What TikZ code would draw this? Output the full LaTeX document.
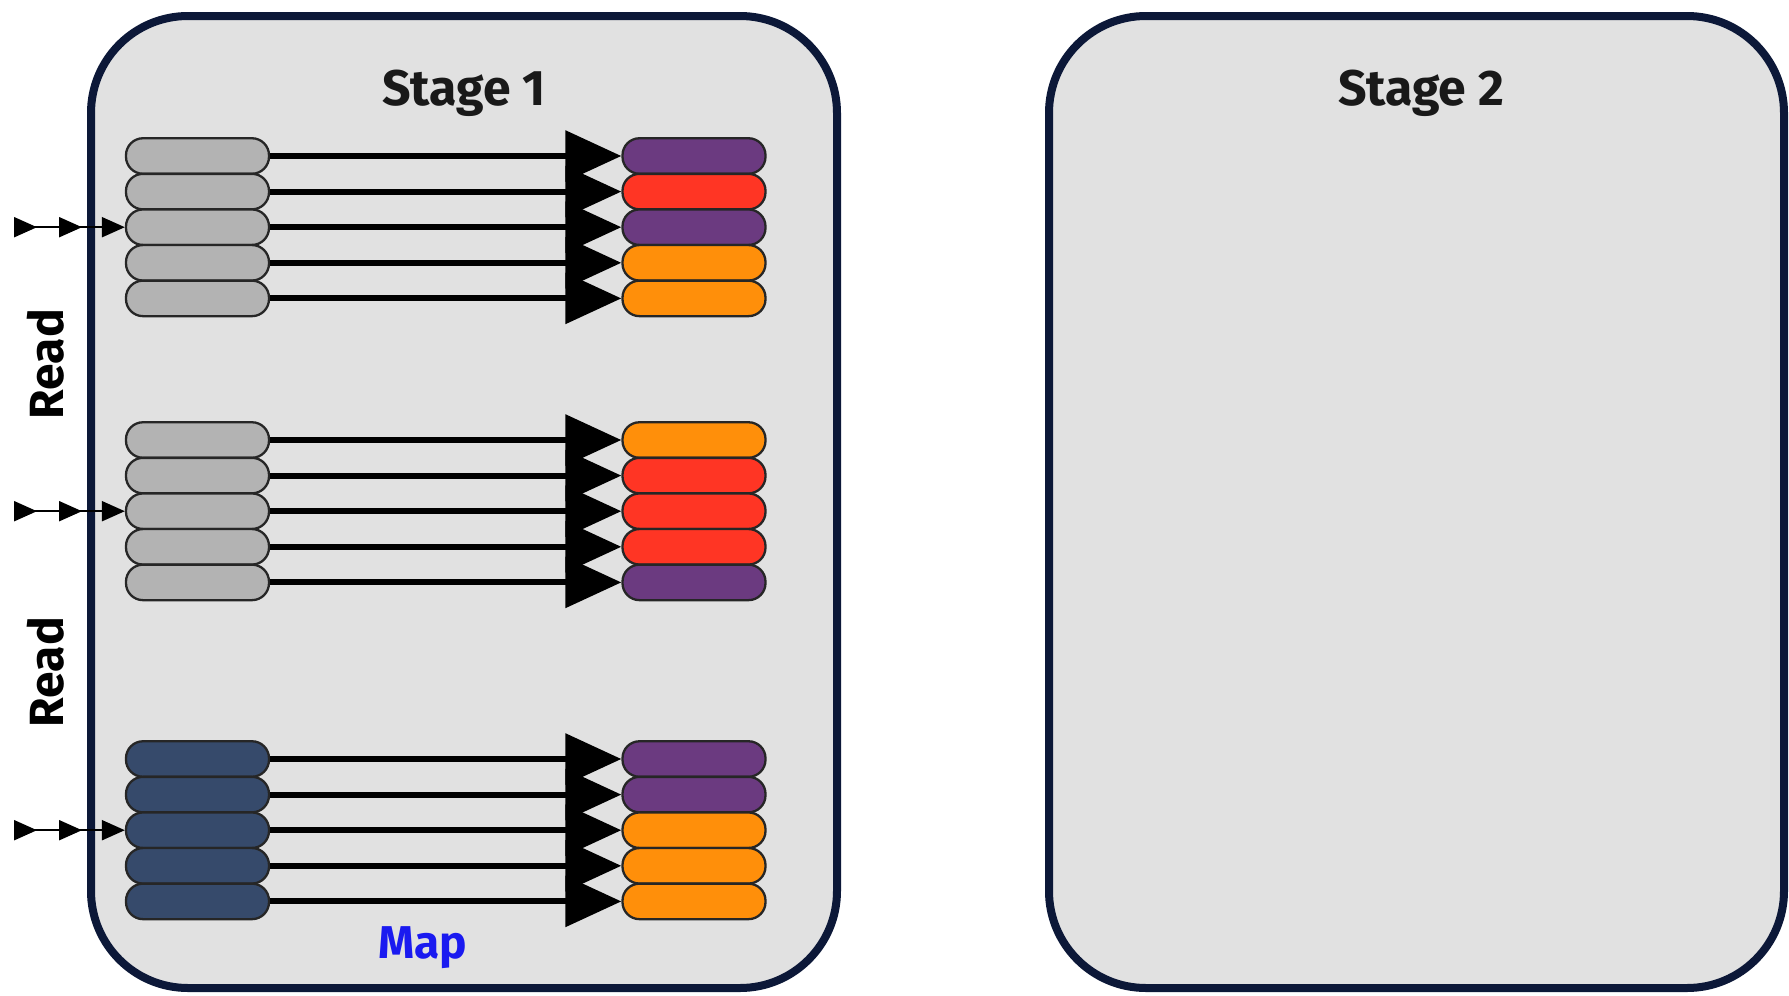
\documentclass[tikz,border=0pt]{standalone}
\usepackage{fontspec}
\setmainfont{Fira Sans}
\usepackage{tikz}
\usetikzlibrary{arrows.meta, positioning, decorations.markings}
\definecolor{frame}{HTML}{0C1838}
\definecolor{panel}{HTML}{E1E1E1}
\definecolor{pillgray}{HTML}{B3B3B3}
\definecolor{pillnavy}{HTML}{364A6B}
\definecolor{mpurple}{HTML}{6B3A80}
\definecolor{mred}{HTML}{FF3524}
\definecolor{morange}{HTML}{FF8F0A}
\definecolor{mapblue}{HTML}{1A1AF0}

\begin{document}
\begin{tikzpicture}[x=1pt, y=-1pt,
  stagebox/.style={draw=frame, fill=panel, line width=8pt, rounded corners=97pt},
  pill/.style={draw=black!85, line width=2.3pt, rounded corners=17pt,
    minimum width=143pt, minimum height=35.5pt, inner sep=0pt},
  maparrow/.style={line width=6pt, -{Triangle[length=56pt, width=50pt]}},
  feed/.style={line width=2.1pt, -{Triangle[length=23pt, width=20pt]},
    postaction={decorate}, decoration={markings,
      mark=at position 23pt with {\arrow{Triangle[length=23pt, width=20pt]}},
      mark=at position 68pt with {\arrow{Triangle[length=23pt, width=20pt]}}}},
  title/.style={font=\bfseries\fontsize{50}{60}\selectfont, text=black!90},
  readlbl/.style={font=\bfseries\fontsize{48}{58}\selectfont, rotate=90},
  maplbl/.style={font=\bfseries\fontsize{46}{56}\selectfont, text=mapblue}]
  \useasboundingbox[fill=white] (0,0) rectangle (1789,996);

  % Stage panels
  \draw[stagebox] (91,16) rectangle (837,988);
  \draw[stagebox] (1049,16) rectangle (1784,988);
  \node[title] (st1) at (464,93) {Stage 1};
  \node[title] (st2) at (1421,93) {Stage 2};

  % Partitions: input pills -> mapped pills
  \foreach \g/\ytop/\shade/\cols in {
      1/156/pillgray/{mpurple,mred,mpurple,morange,morange},
      2/440/pillgray/{morange,mred,mred,mred,mpurple},
      3/759/pillnavy/{mpurple,mpurple,morange,morange,morange}} {
    \foreach \c [count=\i] in \cols {
      \pgfmathsetmacro{\yy}{\ytop+(\i-1)*35.6}
      \node[pill, fill=\shade] (src\g-\i) at (197.5,\yy) {};
      \node[pill, fill=\c] (dst\g-\i) at (694,\yy) {};
      \draw[maparrow] (src\g-\i.east) -- (dst\g-\i.west);
    }
    % Read feed
    \coordinate (in\g) at (14,{\ytop+2*35.6});
    \draw[feed] (in\g) -- (src\g-3.west);
  }

  % Labels
  \node[readlbl] (rd1) at (46,364) {Read};
  \node[readlbl] (rd2) at (46,672) {Read};
  \node[maplbl] (mp) at (423,948) {Map};
\end{tikzpicture}
\end{document}
